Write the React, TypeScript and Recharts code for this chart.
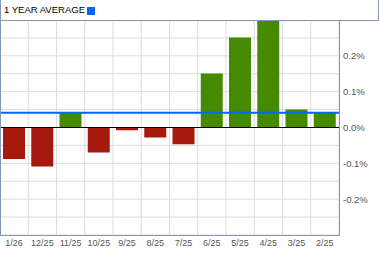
import { BarChart, Bar, Cell, XAxis, YAxis, CartesianGrid, ReferenceLine } from "recharts";

// monthly change, newest first
const months = ["1/26", "12/25", "11/25", "10/25", "9/25", "8/25", "7/25", "6/25", "5/25", "4/25", "3/25", "2/25"];
const changes = [-0.088, -0.109, 0.043, -0.07, -0.008, -0.028, -0.047, 0.151, 0.251, 0.3, 0.05, 0.043];
const yearAverage = 0.041;

// grid every 0.05, labels only on these
const yTicks = [-0.3, -0.25, -0.2, -0.15, -0.1, -0.05, 0, 0.05, 0.1, 0.15, 0.2, 0.25, 0.3];
const labelledTicks = [0.2, 0.1, 0, -0.1, -0.2];

const GREEN = "#458A00";
const RED = "#A6190D";
const BLUE = "#0066FF";
const BORDER = "#7F99B6";
const TEXT = "#555555";

const data = months.map((m, i) => ({ month: m, change: changes[i] }));

const XTick = (props: any) => {
  const { x, y, payload } = props;
  return (
    <text x={x} y={y + 11} textAnchor="middle" fontSize={9} fill={TEXT}>
      {payload.value}
    </text>
  );
};

const YTick = (props: any) => {
  const { x, y, payload } = props;
  if (!labelledTicks.includes(payload.value)) return <g />;
  return (
    <text x={x + 4} y={y + 3.5} textAnchor="start" fontSize={9.5} fill={TEXT}>
      {payload.value.toFixed(1) + "%"}
    </text>
  );
};

const App = () => {
  return (
    <div style={{ position: "relative", width: 379, height: 255, fontFamily: "'Liberation Sans', Arial, sans-serif", background: "#fff" }}>
      <style>{`body{margin:0}`}</style>
      <BarChart width={379} height={255} data={data} margin={{ top: 20, right: 0, left: 0, bottom: 0 }}>
        <CartesianGrid
          stroke="#DDDDDD"
          verticalCoordinatesGenerator={({ offset }: any) =>
            months.map((_, i) => offset.left + ((i + 1) * offset.width) / months.length)
          }
        />
        <XAxis
          dataKey="month"
          height={20}
          interval={0}
          tickSize={0}
          tickMargin={0}
          axisLine={false}
          tickLine={false}
          tick={<XTick />}
        />
        <YAxis
          orientation="right"
          width={40}
          domain={[-0.3, 0.3]}
          ticks={yTicks}
          interval={0}
          allowDataOverflow
          tickSize={0}
          tickMargin={0}
          axisLine={false}
          tickLine={false}
          tick={<YTick />}
        />
        <Bar dataKey="change" barSize={22} isAnimationActive={false}>
          {data.map((d, i) => (
            <Cell key={i} fill={d.change >= 0 ? GREEN : RED} />
          ))}
        </Bar>
        <ReferenceLine y={0} stroke="#000" strokeWidth={1} />
        <ReferenceLine y={yearAverage} stroke={BLUE} strokeWidth={2} />
      </BarChart>

      {/* header box */}
      <div
        style={{
          position: "absolute", left: 0, top: 0, width: 379, height: 21, boxSizing: "border-box",
          borderLeft: `1px solid ${BORDER}`, borderRight: `1px solid ${BORDER}`, borderBottom: `1px solid ${BORDER}`,
          background: "#fff",
        }}
      >
        <span style={{ position: "absolute", left: 3, top: 4, fontSize: 9.5, lineHeight: "12px", color: "#000" }}>
          1 YEAR AVERAGE
        </span>
        <span style={{ position: "absolute", left: 86, top: 7, width: 8, height: 8, background: BLUE }} />
      </div>
      {/* plot frame */}
      <div
        style={{
          position: "absolute", left: 0, top: 20, width: 340, height: 216, boxSizing: "border-box",
          borderLeft: `1px solid ${BORDER}`, borderRight: `1px solid ${BORDER}`, borderBottom: `1px solid ${BORDER}`,
          pointerEvents: "none",
        }}
      />
    </div>
  );
};

export default App;
